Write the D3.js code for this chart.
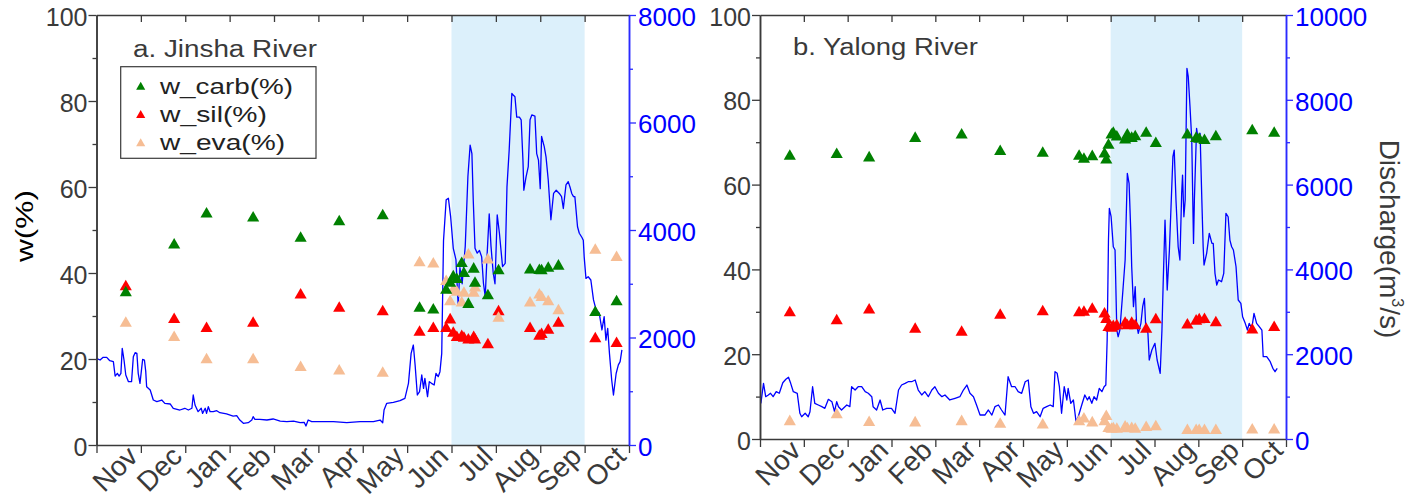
<!DOCTYPE html>
<html><head><meta charset="utf-8">
<script src="https://cdn.jsdelivr.net/npm/d3@7"></script>
<style>
html,body{margin:0;padding:0;background:#fff;}
svg{display:block;font-family:"Liberation Sans",Arial,sans-serif;}
</style></head><body>
<svg id="chart" width="1426" height="499"></svg>
<script>
// ---------- data ----------
const monthLabels = ["Nov","Dec","Jan","Feb","Mar","Apr","May","Jun","Jul","Aug","Sep","Oct"];
const wetSeason = [8, 11];              // shaded months (index on month axis)
const wTicks = [0, 20, 40, 60, 80, 100];
const seriesNames = ["w_carb(%)", "w_sil(%)", "w_eva(%)"];

// Panel a: Jinsha River (x in months from start of axis)
const sampleA = [0.66,1.75,2.48,3.53,4.60,5.47,6.45,7.28,7.59,7.88,7.97,8.04,8.12,8.23,8.28,8.38,8.50,8.53,8.82,9.06,9.77,9.98,10.03,10.18,10.41,11.24,11.72];
const carbA = [35.4,46.5,53.7,52.8,48.1,51.9,53.3,31.8,31.4,36.0,37.6,39.1,38.5,42.2,39.9,32.7,40.9,37.6,34.7,40.5,40.7,40.6,40.5,41.1,41.6,30.8,33.3];
const silA  = [36.8,29.2,27.1,28.3,34.9,31.8,31.0,26.2,27.1,27.1,29.1,26.0,25.0,25.2,24.8,24.4,25.0,24.4,23.3,31.0,27.1,25.3,25.7,26.7,28.3,24.7,23.6];
const evaA  = [28.3,25.0,19.8,19.8,18.0,17.2,16.7,42.4,42.1,38.0,33.3,36.0,35.5,33.0,35.3,44.2,35.3,36.5,43.0,29.5,33.0,34.9,34.3,33.3,31.2,45.3,43.6];
const qMonthA = [0.00,0.08,0.15,0.23,0.30,0.38,0.42,0.47,0.51,0.55,0.58,0.62,0.66,0.72,0.79,0.83,0.87,0.91,0.94,0.98,1.04,1.08,1.11,1.13,1.21,1.28,1.36,1.47,1.54,1.66,1.73,1.88,1.99,2.07,2.15,2.18,2.22,2.29,2.36,2.39,2.45,2.48,2.52,2.56,2.63,2.71,2.78,2.93,3.08,3.16,3.23,3.31,3.42,3.50,3.53,3.57,3.68,3.84,3.98,4.14,4.29,4.44,4.59,4.68,4.72,4.77,4.85,5.04,5.34,5.64,5.94,6.24,6.39,6.45,6.48,6.54,6.69,6.84,6.95,7.03,7.09,7.14,7.18,7.23,7.28,7.33,7.37,7.40,7.46,7.50,7.55,7.61,7.65,7.70,7.74,7.78,7.82,7.88,7.93,7.98,8.04,8.10,8.15,8.19,8.24,8.31,8.37,8.42,8.46,8.49,8.53,8.58,8.63,8.68,8.72,8.76,8.80,8.85,8.89,8.94,8.98,9.03,9.08,9.15,9.21,9.25,9.30,9.36,9.39,9.43,9.47,9.53,9.57,9.61,9.63,9.68,9.73,9.77,9.81,9.88,9.92,9.96,10.00,10.03,10.09,10.13,10.18,10.24,10.30,10.36,10.43,10.48,10.52,10.58,10.63,10.67,10.71,10.75,10.78,10.84,10.88,10.94,10.97,10.99,11.03,11.08,11.14,11.20,11.26,11.33,11.39,11.44,11.48,11.52,11.56,11.61,11.65,11.71,11.76,11.80,11.84];
const qValueA = [1612,1581,1631,1631,1568,1550,1283,1333,1283,1333,1798,1581,1302,1178,1178,1643,1717,1705,1333,1147,1593,1581,1364,1085,1023,837,806,837,775,763,683,651,683,651,683,930,744,620,683,589,683,589,713,620,620,638,601,577,539,546,465,403,415,465,527,478,478,465,484,446,434,446,415,422,353,465,434,434,434,415,434,434,465,415,651,775,794,825,868,1147,1705,1860,1488,930,992,1302,1055,1240,899,1178,1147,1116,1333,1271,1364,1705,3800,4560,4590,4250,3660,3450,2600,3300,3000,3700,5000,5580,5420,4560,3660,3570,3620,3500,3010,2760,3500,4300,3700,3200,3000,4280,3940,3320,3380,4800,5490,6540,6510,6480,6100,6100,6050,5300,4740,4990,5180,6050,6140,6120,5420,5300,4770,5740,5550,5360,4930,4190,4680,4740,4680,4620,4400,4840,4900,4800,4680,4620,4620,4060,3940,3860,3810,3500,3100,3130,3070,2700,2510,2450,2140,2390,1950,2170,1700,1210,930,1330,1490,1550,1770];

// Panel b: Yalong River
const sampleB = [0.68,1.75,2.49,3.54,4.60,5.48,6.45,7.28,7.39,7.58,7.86,7.90,7.95,8.02,8.06,8.14,8.33,8.38,8.48,8.56,8.81,9.03,9.75,9.95,10.02,10.14,10.40,11.23,11.73];
const carbB = [66.7,67.1,66.3,70.9,71.7,67.8,67.4,66.7,66.0,66.6,67.2,65.8,69.3,71.7,72.1,71.2,70.5,71.7,70.9,71.3,72.1,69.7,71.7,70.9,70.7,70.4,71.3,72.7,72.1];
const silB  = [29.8,27.9,30.4,25.9,25.2,29.2,30.0,29.8,29.9,30.6,29.5,28.2,26.3,26.1,26.5,26.7,27.3,26.7,27.3,26.7,25.9,28.1,26.9,27.8,28.1,28.2,27.4,25.7,26.3];
const evaB  = [4.1,5.7,3.9,3.8,4.1,3.5,3.3,4.1,4.7,3.8,4.1,5.3,2.5,2.3,2.4,2.3,2.8,2.4,2.5,2.3,2.7,2.9,2.0,2.0,2.0,2.0,2.0,2.1,2.1];
const qMonthB = [0.02,0.08,0.13,0.19,0.24,0.30,0.37,0.44,0.52,0.59,0.65,0.70,0.76,0.85,0.91,0.95,1.03,1.10,1.14,1.20,1.25,1.33,1.41,1.48,1.56,1.64,1.70,1.75,1.79,1.86,1.98,2.05,2.09,2.17,2.24,2.32,2.40,2.47,2.55,2.58,2.66,2.74,2.80,2.89,3.00,3.08,3.16,3.23,3.31,3.38,3.46,3.54,3.61,3.69,3.76,3.84,3.92,3.99,4.07,4.15,4.22,4.33,4.45,4.56,4.64,4.72,4.79,4.87,4.94,5.02,5.13,5.21,5.29,5.36,5.44,5.51,5.59,5.66,5.74,5.82,5.89,5.97,6.05,6.12,6.18,6.24,6.31,6.39,6.46,6.54,6.62,6.69,6.73,6.78,6.83,6.88,6.94,7.00,7.03,7.09,7.15,7.21,7.26,7.34,7.41,7.47,7.51,7.57,7.62,7.68,7.74,7.80,7.85,7.89,7.92,7.95,7.97,8.01,8.06,8.10,8.14,8.17,8.21,8.28,8.33,8.38,8.42,8.46,8.48,8.52,8.56,8.59,8.63,8.69,8.73,8.77,8.80,8.85,8.88,8.94,9.01,9.06,9.13,9.17,9.20,9.24,9.29,9.34,9.42,9.45,9.49,9.54,9.58,9.62,9.64,9.67,9.70,9.74,9.77,9.81,9.85,9.89,9.91,9.96,10.00,10.04,10.08,10.11,10.13,10.19,10.25,10.31,10.34,10.38,10.42,10.46,10.53,10.58,10.63,10.68,10.72,10.76,10.80,10.86,10.91,10.97,11.01,11.07,11.12,11.16,11.22,11.27,11.33,11.39,11.45,11.48,11.56,11.64,11.70,11.75,11.80];
const qValueB = [842,1313,998,1038,1078,998,1116,1078,1328,1408,1455,1313,1116,1078,606,526,606,526,644,1233,842,802,762,724,936,880,644,880,762,684,802,762,1233,1155,1233,1233,1116,1078,998,762,684,920,684,724,724,606,1155,1273,1313,1351,1351,1391,1155,1038,1116,998,1155,1233,1078,998,1038,920,960,998,1155,1273,1078,998,802,566,566,684,566,762,802,684,566,1469,1233,1233,1116,1078,1351,1391,762,606,644,526,724,762,802,762,1587,1549,1233,606,1233,920,1195,842,920,408,526,802,1038,920,998,842,998,920,1195,1116,1233,1273,2334,4692,5440,5242,4535,4457,2570,2412,2570,3513,4221,6265,6030,4850,4063,3120,3591,2728,2492,2728,3120,3318,2648,2492,1863,2099,2257,1863,1549,2570,3749,5164,3513,4457,6657,6815,5636,4535,4221,5794,6225,5242,5636,8742,8545,7836,7050,4614,5636,7327,7050,7209,5636,4535,4103,4378,4850,4614,4614,3907,3631,3749,3710,3907,5322,5242,4692,4535,4457,4063,3278,3200,2884,2728,2570,2728,2610,2964,2728,2648,2570,1941,1941,1823,1667,1587,1667];

// ---------- style ----------
const colors = { carb: "#008000", sil: "#ff0000", eva: "#f6bd94" };
const axisGray = "#3a3a3a";
const blue = "#0000ff";
const axisBlue = "#2a2aff";

const svg = d3.select("#chart");

function styleAxis(sel, color, fs) {
  sel.select(".domain").attr("stroke", color).attr("stroke-width", 1.5);
  sel.selectAll(".tick line").attr("stroke", color).attr("stroke-width", 1.3);
  sel.selectAll(".tick text").attr("fill", color).attr("font-size", fs)
     .attr("font-family", '"Liberation Sans", Arial, sans-serif');
}

function drawPanel(cfg) {
  const g = svg.append("g");
  const x = d3.scaleLinear().domain([0, 12]).range([cfg.left, cfg.right]);
  const y = d3.scaleLinear().domain([0, 100]).range([cfg.bottom, cfg.top]);
  const q = d3.scaleLinear().domain([0, cfg.qMax]).range([cfg.bottom, cfg.top]);

  // wet season shading
  g.append("rect")
    .attr("x", x(wetSeason[0])).attr("y", cfg.top)
    .attr("width", x(wetSeason[1]) - x(wetSeason[0]))
    .attr("height", cfg.bottom - cfg.top)
    .attr("fill", "#dcf0fb");

  // discharge line
  const line = d3.line().x((d, i) => x(cfg.qMonth[i])).y(d => q(d));
  g.append("path").datum(cfg.qValue).attr("d", line)
    .attr("fill", "none").attr("stroke", blue).attr("stroke-width", 1.3)
    .attr("stroke-linejoin", "round");

  // markers
  const tri = d3.symbol().type(d3.symbolTriangle).size(64);
  [["sil", cfg.sil], ["eva", cfg.eva], ["carb", cfg.carb]].forEach(([k, vals]) => {
    g.append("g").selectAll("path").data(vals).join("path")
      .attr("d", tri)
      .attr("transform", (d, i) => `translate(${x(cfg.samples[i])},${y(d)})`)
      .attr("fill", colors[k]);
  });

  // top frame with inward ticks
  const top = g.append("g").attr("transform", `translate(0,${cfg.top})`)
    .call(d3.axisTop(x).tickValues(d3.range(1, 12)).tickSize(-7).tickSizeOuter(0).tickFormat(""));
  styleAxis(top, axisGray, 25);

  // bottom axis
  const bot = g.append("g").attr("transform", `translate(0,${cfg.bottom})`)
    .call(d3.axisBottom(x).tickValues(d3.range(0, 13)).tickSize(8).tickSizeOuter(0)
      .tickFormat(i => i === 0 ? "" : monthLabels[i - 1]));
  styleAxis(bot, axisGray, 28);
  bot.selectAll(".tick text")
    .attr("x", 0).attr("y", 0).attr("dy", "0")
    .attr("text-anchor", "end")
    .attr("transform", "translate(-2,13) rotate(-45)");

  // left axis (minor + major)
  const lmin = g.append("g").attr("transform", `translate(${cfg.left},0)`)
    .call(d3.axisLeft(y).tickValues(d3.range(10, 100, 20)).tickSize(4).tickSizeOuter(0).tickFormat(""));
  styleAxis(lmin, axisGray, 25);
  const lmaj = g.append("g").attr("transform", `translate(${cfg.left},0)`)
    .call(d3.axisLeft(y).tickValues(wTicks).tickSize(8).tickPadding(1).tickSizeOuter(0));
  styleAxis(lmaj, axisGray, 25);
  lmaj.selectAll(".tick text").attr("dy", "0.4em");

  // right axis (discharge)
  const rmin = g.append("g").attr("transform", `translate(${cfg.right},0)`)
    .call(d3.axisRight(q).tickValues(d3.range(1000, cfg.qMax, 2000)).tickSize(4).tickSizeOuter(0).tickFormat(""));
  styleAxis(rmin, axisBlue, 26);
  const rmaj = g.append("g").attr("transform", `translate(${cfg.right},0)`)
    .call(d3.axisRight(q).tickValues(d3.range(0, cfg.qMax + 1, 2000)).tickSize(7).tickPadding(2).tickSizeOuter(0).tickFormat(d3.format("d")));
  styleAxis(rmaj, axisBlue, 26);
  rmaj.selectAll(".tick text").attr("fill", blue).attr("dy", "0.4em");

  // title
  g.append("text").attr("x", cfg.titleX).attr("y", cfg.titleY)
    .attr("font-size", 23).attr("fill", axisGray)
    .attr("textLength", cfg.titleLen).attr("lengthAdjust", "spacingAndGlyphs")
    .text(cfg.title);

  return { x, y, q, g };
}

drawPanel({
  left: 96.5, right: 629, top: 15, bottom: 445, qMax: 8000,
  samples: sampleA, carb: carbA, sil: silA, eva: evaA,
  qMonth: qMonthA, qValue: qValueA,
  title: "a. Jinsha River", titleX: 133, titleY: 56.5, titleLen: 184
});
drawPanel({
  left: 760, right: 1286, top: 15, bottom: 439, qMax: 10000,
  samples: sampleB, carb: carbB, sil: silB, eva: evaB,
  qMonth: qMonthB, qValue: qValueB,
  title: "b. Yalong River", titleX: 793, titleY: 54.5, titleLen: 185
});

// legend (panel a)
const leg = svg.append("g");
leg.append("rect").attr("x", 120.7).attr("y", 66.7).attr("width", 195.3).attr("height", 91.6)
  .attr("fill", "#fff").attr("stroke", axisGray).attr("stroke-width", 1.2);
const legKeys = ["carb", "sil", "eva"];
const legLens = [133, 107, 125];
const legTri = d3.symbol().type(d3.symbolTriangle).size(36);
seriesNames.forEach((name, i) => {
  const cy = 87 + i * 28.3;
  leg.append("path").attr("d", legTri).attr("transform", `translate(140.7,${cy})`).attr("fill", colors[legKeys[i]]);
  leg.append("text").attr("x", 160).attr("y", cy + 3.5).attr("dy", "0.15em")
    .attr("font-size", 22).attr("fill", "#222")
    .attr("textLength", legLens[i]).attr("lengthAdjust", "spacingAndGlyphs")
    .text(name);
});

// axis titles
svg.append("text").attr("transform", "translate(33,226) rotate(-90)")
  .attr("text-anchor", "middle").attr("font-size", 23).attr("fill", "#000")
  .attr("textLength", 72).attr("lengthAdjust", "spacingAndGlyphs")
  .text("w(%)");

const dl = svg.append("text").attr("transform", "translate(1380,239) rotate(90)")
  .attr("text-anchor", "middle").attr("font-size", 28).attr("fill", axisGray);
dl.append("tspan").text("Discharge(m");
dl.append("tspan").attr("font-size", 16).attr("dy", "-0.75em").text("3");
dl.append("tspan").attr("dy", "0.43em").text("/s)");
</script>
</body></html>
